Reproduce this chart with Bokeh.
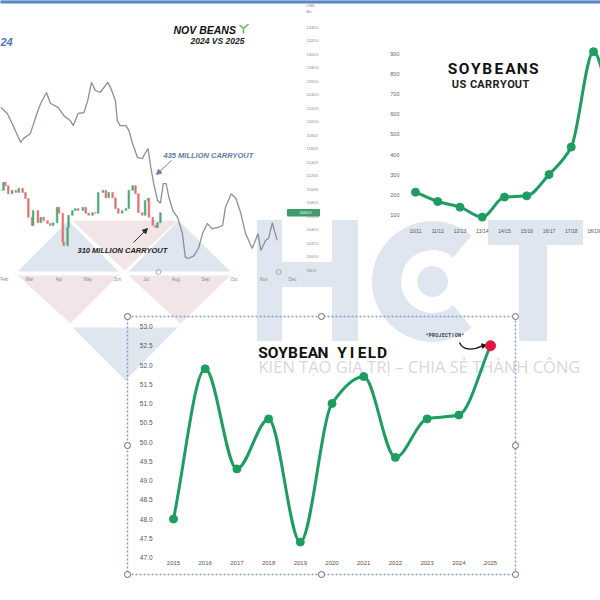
import numpy as np
from bokeh.plotting import figure
from bokeh.models import (Range1d, FixedTicker, Arrow, NormalHead, InlineStyleSheet,
                          NumeralTickFormatter)
from bokeh.core.properties import value
from bokeh.embed import file_html
from bokeh.resources import INLINE

# ---------------- data ----------------
# Soybean yield (bu/acre), 2025 = projection
yield_years = [2015, 2016, 2017, 2018, 2019, 2020, 2021, 2022, 2023, 2024, 2025]
yield_bu = [48.0, 51.9, 49.3, 50.6, 47.4, 51.0, 51.7, 49.6, 50.6, 50.7, 52.5]
yield_ticks = [47.0, 47.5, 48.0, 48.5, 49.0, 49.5, 50.0, 50.5, 51.0, 51.5, 52.0, 52.5, 53.0]

# US soybean carryout (million bu)
carry_seasons = ["10/11", "11/12", "12/13", "13/14", "14/15", "15/16", "16/17", "17/18", "18/19", "19/20"]
carry_mbu = [215, 169, 141, 92, 191, 197, 302, 438, 909, 525]
carry_ticks = [100, 200, 300, 400, 500, 600, 700, 800, 900]

# Nov beans 2024 (line) vs 2025 (candles): day of year, cents/bu
nov24_day = [30, 37, 44, 51, 54, 61, 69, 72, 78, 82, 90, 96, 103, 106, 111, 117, 121, 125, 129, 134,
             142, 145, 150, 152, 155, 161, 164, 168, 173, 178, 184, 187, 190, 194, 197, 200, 203, 206, 210, 215,
             220, 223, 226, 232, 237, 241, 246, 251, 257, 262, 265, 271, 276, 281, 286, 293, 299, 302, 307, 310,
             314, 316, 319]
nov24_price = [1221, 1212, 1191, 1169, 1175, 1182, 1216, 1227, 1243, 1227, 1221, 1209, 1201, 1194, 1212, 1213, 1231, 1258, 1246, 1243,
               1258, 1250, 1231, 1201, 1194, 1194, 1187, 1167, 1147, 1145, 1160, 1132, 1108, 1083, 1079, 1108, 1108, 1087, 1068, 1058,
               1034, 999, 997, 1001, 1013, 1034, 1049, 1041, 1043, 1046, 1073, 1093, 1086, 1064, 1034, 1012, 1034, 1009, 1024, 1027,
               1050, 1039, 1024]
nov25_day = [30, 33, 35, 38, 42, 46, 49, 53, 56, 59, 63, 64, 69, 72, 75, 79, 82, 85, 89, 91,
             95, 96, 100, 101, 105, 108, 111, 116, 119, 122, 126, 129, 132, 137, 140, 143, 147, 150, 153, 157,
             161, 164, 168, 171, 174, 178, 181, 184, 185, 189, 192, 194, 197]
nov25_close = [1098, 1110, 1105, 1093, 1098, 1095, 1101, 1095, 1086, 1058, 1046, 1068, 1050, 1058, 1053, 1049, 1046, 1050, 1073, 1064,
               1021, 1016, 1043, 1061, 1068, 1071, 1068, 1073, 1064, 1061, 1065, 1064, 1095, 1098, 1087, 1095, 1087, 1071, 1064, 1068,
               1071, 1098, 1105, 1093, 1065, 1061, 1083, 1086, 1058, 1046, 1043, 1050, 1065]
month_day = [32, 60, 91, 121, 152, 182, 213, 244, 274, 305, 335]
month_name = ["Feb", "Mar", "Apr", "May", "Jun", "Jul", "Aug", "Sep", "Oct", "Nov", "Dec"]
price_ticks = [980, 1000, 1020, 1040, 1060, 1080, 1100, 1120, 1140, 1160, 1180, 1200,
               1220, 1240, 1260, 1280, 1300, 1320, 1340]
nov25_last = "1065'0"

GREEN = "#1d9e60"
TITLE_FONT = "Roboto"


def monotone_bezier(x, y):
    x = np.asarray(x, float)
    y = np.asarray(y, float)
    n = len(x)
    h = np.diff(x)
    d = np.diff(y) / h
    m = np.zeros(n)
    m[0], m[-1] = d[0], d[-1]
    for i in range(1, n - 1):
        if d[i - 1] * d[i] <= 0:
            m[i] = 0.0
        else:
            w1 = 2 * h[i] + h[i - 1]
            w2 = h[i] + 2 * h[i - 1]
            m[i] = (w1 + w2) / (w1 / d[i - 1] + w2 / d[i])
    return dict(x0=x[:-1], y0=y[:-1], x1=x[1:], y1=y[1:],
                cx0=x[:-1] + h / 3, cy0=y[:-1] + m[:-1] * h / 3,
                cx1=x[1:] - h / 3, cy1=y[1:] - m[1:] * h / 3)


def place(fig, x, y):
    fig.stylesheets = [InlineStyleSheet(
        css=":host{position:absolute !important;left:%.1fpx !important;top:%.1fpx !important;"
            "margin:0 !important;}" % (x, y))]


def mkfig(fw, fh, bl, br, bt, bb, **kw):
    return figure(frame_width=fw, frame_height=fh, min_border_left=bl, min_border_right=br,
                  min_border_top=bt, min_border_bottom=bb, margin=0,
                  output_backend="svg", toolbar_location=None, outline_line_color=None, **kw)


def clean(fig):
    fig.xgrid.grid_line_color = None
    fig.ygrid.grid_line_color = None
    for ax in fig.xaxis + fig.yaxis:
        ax.axis_line_color = None
        ax.major_tick_line_color = None
        ax.minor_tick_line_color = None
        ax.major_tick_out = 0
        ax.major_tick_in = 0
        ax.minor_tick_out = 0
        ax.minor_tick_in = 0


# ---------------- background canvas (watermark, titles, frame) ----------------
bg = mkfig(600, 600, 0, 0, 0, 0, x_range=Range1d(0, 600), y_range=Range1d(600, 0),
           x_axis_location=None, y_axis_location=None,
           background_fill_color="white", border_fill_color="white")
bg.xgrid.visible = False
bg.ygrid.visible = False

bg.quad(left=[0], right=[600], top=[0], bottom=[2.5], color="#5a86c5")

WB = "#dfe6f0"
WP = "#f1e5e7"
tri_x = [[17, 118, 68], [72, 177, 124], [128, 230, 178],
         [17, 118, 70], [128, 230, 180], [72, 177, 125]]
tri_y = [[271, 271, 220], [220, 220, 270], [271, 271, 220],
         [275, 275, 323], [275, 275, 323], [327, 327, 380]]
bg.patches(tri_x, tri_y, fill_color=[WB, WP, WB, WP, WP, WB], line_color=None)

# HCT letters
bg.quad(left=[257, 332, 257, 488, 519], right=[281, 357, 357, 582, 546],
        top=[220, 220, 262, 220, 220], bottom=[340, 340, 286, 244, 340], color=WB)
bg.annular_wedge(x=[432], y=[281], inner_radius=32, outer_radius=60,
                 start_angle=np.radians(50), end_angle=np.radians(310), color=WB)
bg.circle(x=[432], y=[281], radius=15, color=WB)

bg.text(x=[258], y=[366], text=["KIẾN TẠO GIÁ TRỊ – CHIA SẺ THÀNH CÔNG"],
        text_font=value("Open Sans"), text_font_size="16.5px", text_color="#d8d8d8",
        text_baseline="middle")


def spaced(x0, y, s, step, extra, size, color, font=TITLE_FONT, style="bold"):
    xs, chars, cur = [], [], x0
    for ch in s:
        if ch == " ":
            cur += extra
            continue
        xs.append(cur)
        chars.append(ch)
        cur += step
    bg.text(x=xs, y=[y] * len(xs), text=chars, text_font=value(font), text_font_size=size,
            text_font_style=style, text_color=color, text_align="center", text_baseline="middle")


def txt(x, y, s, size, color, style="bold italic", font="Liberation Sans", align="left"):
    bg.text(x=[x], y=[y], text=[s], text_font=value(font), text_font_size=size,
            text_font_style=style, text_color=color, text_align=align, text_baseline="middle")


# left chart annotations
txt(0, 41, "24", "11px", "#4d74bf")
txt(173, 29, "NOV BEANS", "10.5px", "#111")
txt(190, 40, "2024 VS 2025", "8.5px", "#222")
bg.multi_line([[243, 243], [243, 239], [243, 248]], [[33, 28], [28, 24.5], [28, 23.5]],
              line_color="#5cb85c", line_width=1.5)
txt(163, 154.5, "435 MILLION CARRYOUT", "7.5px", "#5e7aa8")
bg.add_layout(Arrow(x_start=171, y_start=160, x_end=156, y_end=174, line_color="#6d7fa3", line_width=1,
                    end=NormalHead(size=5, fill_color="#6d7fa3", line_color="#6d7fa3")))
txt(77, 249.5, "310 MILLION CARRYOUT", "7.5px", "#222")
bg.add_layout(Arrow(x_start=133, y_start=242, x_end=147, y_end=228, line_color="#333", line_width=1,
                    end=NormalHead(size=5, fill_color="#333", line_color="#333")))
txt(306, 5, "USD", "4px", "#777", style="normal")
txt(306, 11, "Bu", "4px", "#777", style="normal")
bg.quad(left=[287], right=[319], top=[209], bottom=[215.5], color="#3c9d6b")
txt(305, 212.3, nov25_last, "4px", "white", style="normal", align="center")
bg.scatter(x=[158, 278], y=[271.5, 271.5], size=5, fill_color=None, line_color="#999", line_width=0.8)

# carryout titles
spaced(452, 68, "SOYBEANS", 11.6, 0, "15.5px", "#111")
spaced(455, 83.5, "US CARRYOUT", 7.5, 3, "11px", "#222")

# yield box, titles, projection note
bg.quad(left=[127], right=[515], top=[316], bottom=[574], fill_color=None,
        line_color="#7f9dc7", line_width=1.5, line_dash="2 2")
bg.scatter(x=[127, 321, 515, 127, 515, 127, 321, 515], y=[316, 316, 316, 445, 445, 574, 574, 574],
           size=6, fill_color="white", line_color="#666", line_width=1)
spaced(262.5, 352.5, "SOYBEAN YIELD", 10, 9, "15.5px", "#111")
spaced(426.5, 334.5, "*PROJECTION*", 3.25, 0, "4.5px", "#333")
bg.bezier(x0=[459], y0=[342], x1=[481], y1=[345.6], cx0=[462], cy0=[350], cx1=[473], cy1=[350],
          line_color="#111", line_width=1.3)
bg.add_layout(Arrow(x_start=481, y_start=345.6, x_end=486, y_end=344.8, line_color="#111", line_width=1.3,
                    end=NormalHead(size=4.5, fill_color="#111", line_color="#111")))

# ---------------- Nov beans price chart ----------------
p1 = mkfig(300, 272, 0, 32, 0, 14, y_axis_location="right",
           x_range=Range1d(29.9, 343.4), y_range=Range1d(976.3, 1379.3),
           background_fill_color=None, border_fill_color=None)
clean(p1)
p1.xaxis.ticker = FixedTicker(ticks=month_day)
p1.xaxis.major_label_overrides = {d: n for d, n in zip(month_day, month_name)}
p1.xaxis.major_label_text_font_size = "4.5px"
p1.xaxis.major_label_text_color = "#888"
p1.xaxis.major_label_standoff = 4
p1.yaxis.ticker = FixedTicker(ticks=price_ticks)
p1.yaxis.major_label_overrides = {t: "%d'0" % t for t in price_ticks}
p1.yaxis.major_label_text_font_size = "4px"
p1.yaxis.major_label_text_color = "#888"
p1.yaxis.major_label_standoff = 6

p1.line(nov24_day, nov24_price, line_color="#8a8f99", line_width=1.3)
opens = [nov25_close[0]] + nov25_close[:-1]
tops = [max(o, c) for o, c in zip(opens, nov25_close)]
bots = [min(o, c) for o, c in zip(opens, nov25_close)]
cols = ["#4aa97b" if c >= o else "#e2706f" for o, c in zip(opens, nov25_close)]
p1.vbar(x=nov25_day, width=1.8, top=tops, bottom=bots, fill_color=cols, line_color=cols, line_width=0.5)
place(p1, 0, 0)

# ---------------- carryout chart ----------------
idx = list(range(len(carry_seasons)))
p2 = mkfig(195, 192, 35, 0, 0, 16,
           x_range=Range1d(-0.449, 8.315), y_range=Range1d(65.4, 1013.6),
           background_fill_color=None, border_fill_color=None)
clean(p2)
p2.yaxis.ticker = FixedTicker(ticks=carry_ticks)
p2.yaxis.major_label_text_font_size = "5.5px"
p2.yaxis.major_label_text_color = "#666"
p2.yaxis.major_label_standoff = 6
p2.xaxis.ticker = FixedTicker(ticks=idx)
p2.xaxis.major_label_overrides = {i: s for i, s in zip(idx, carry_seasons)}
p2.xaxis.major_label_text_font_size = "5px"
p2.xaxis.major_label_text_color = "#555"
p2.xaxis.major_label_standoff = 5
p2.bezier(line_color=GREEN, line_width=3, **monotone_bezier(idx, carry_mbu))
p2.scatter(idx, carry_mbu, size=8, color=GREEN)
place(p2, 370, 30)

# ---------------- yield chart ----------------
p3 = mkfig(350, 231, 30, 4, 8, 18,
           x_range=Range1d(2014.59, 2025.63), y_range=Range1d(47.0, 53.0),
           background_fill_color=None, border_fill_color=None)
clean(p3)
p3.yaxis.ticker = FixedTicker(ticks=yield_ticks)
p3.yaxis.formatter = NumeralTickFormatter(format="0.0")
p3.yaxis.major_label_text_font_size = "6.5px"
p3.yaxis.major_label_text_color = "#555"
p3.yaxis.major_label_standoff = 8
p3.xaxis.ticker = FixedTicker(ticks=yield_years)
p3.xaxis.major_label_text_font_size = "6px"
p3.xaxis.major_label_text_color = "#555"
p3.xaxis.major_label_standoff = 3
p3.bezier(line_color=GREEN, line_width=3, **monotone_bezier(yield_years, yield_bu))
p3.scatter(yield_years[:-1], yield_bu[:-1], size=8, color=GREEN)
p3.scatter(yield_years[-1:], yield_bu[-1:], size=10, color="#e3163f")
place(p3, 130, 318)

place(bg, 0, 0)

open("out.html", "w").write(file_html([bg, p1, p2, p3], INLINE))
